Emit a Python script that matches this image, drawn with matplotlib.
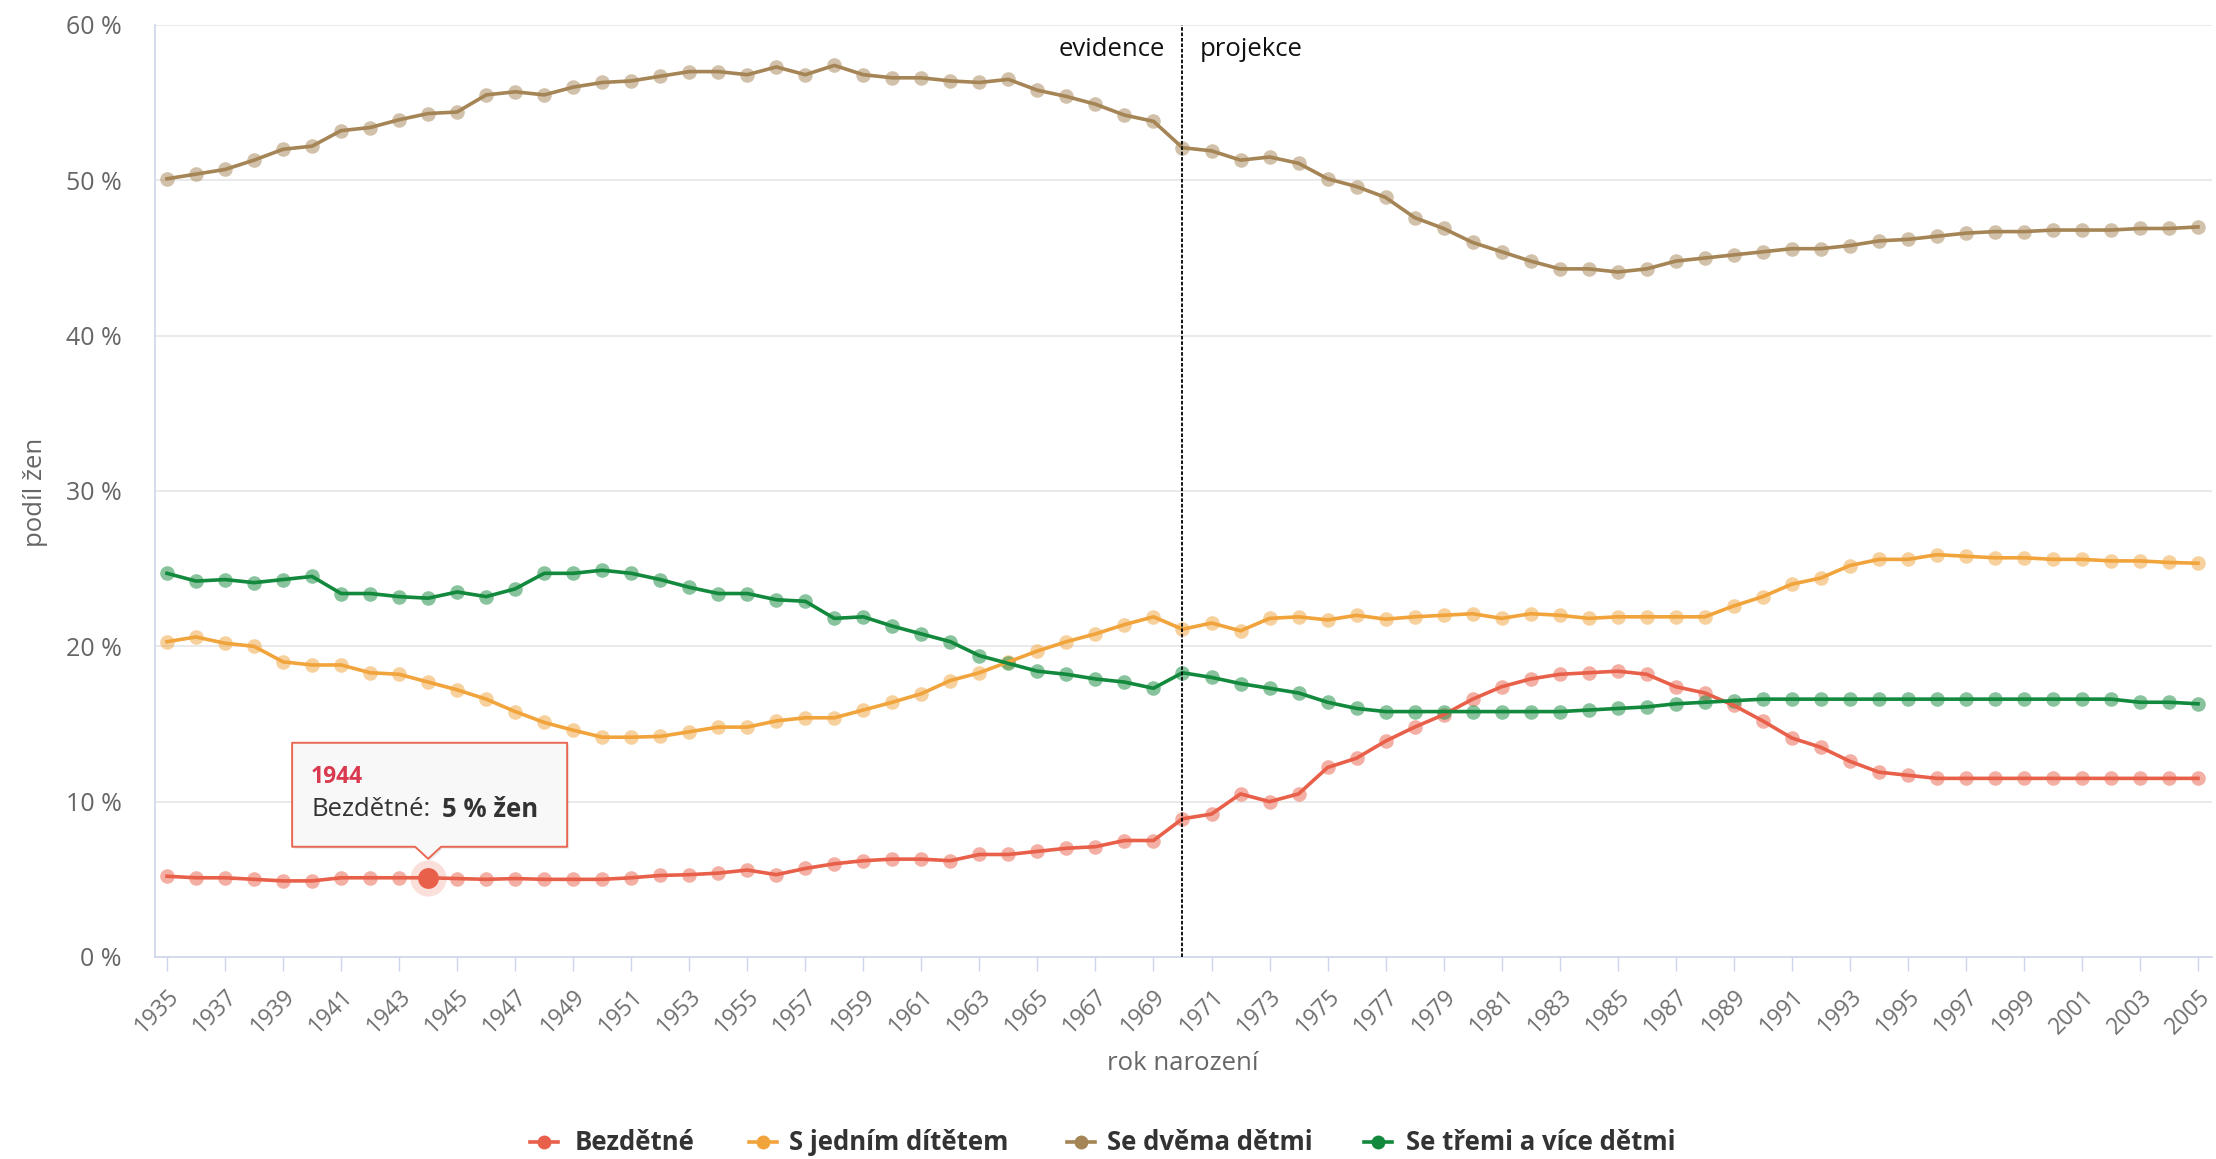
import matplotlib
matplotlib.use("Agg")
import matplotlib.pyplot as plt
from matplotlib.lines import Line2D
from matplotlib.patches import Polygon
from matplotlib.transforms import IdentityTransform

plt.rcParams['font.family'] = ['Open Sans', 'DejaVu Sans']

years = list(range(1935, 2006))

bezdetne = [5.2, 5.1, 5.1, 5.0, 4.9, 4.9, 5.1, 5.1, 5.1, 5.1,
            5.05, 5.0, 5.05, 5.0, 5.0, 5.0, 5.1, 5.25, 5.3, 5.4,
            5.6, 5.3, 5.7, 6.0, 6.2, 6.3, 6.3, 6.2, 6.6, 6.6,
            6.8, 7.0, 7.1, 7.5, 7.5, 8.9, 9.2, 10.5, 10.0, 10.5,
            12.2, 12.8, 13.9, 14.8, 15.6, 16.6, 17.4, 17.9, 18.2, 18.3,
            18.4, 18.2, 17.4, 17.0, 16.2, 15.2, 14.1, 13.5, 12.6, 11.9,
            11.7, 11.5, 11.5, 11.5, 11.5, 11.5, 11.5, 11.5, 11.5, 11.5, 11.5]

jedno_dite = [20.3, 20.6, 20.2, 20.0, 19.0, 18.8, 18.8, 18.3, 18.2, 17.7,
              17.2, 16.6, 15.8, 15.1, 14.6, 14.15, 14.15, 14.2, 14.5, 14.8,
              14.8, 15.2, 15.4, 15.4, 15.9, 16.4, 16.95, 17.8, 18.3, 19.0,
              19.7, 20.3, 20.8, 21.4, 21.9, 21.1, 21.5, 21.0, 21.8, 21.9,
              21.7, 22.0, 21.75, 21.9, 22.0, 22.1, 21.8, 22.1, 22.0, 21.8,
              21.9, 21.9, 21.9, 21.9, 22.6, 23.2, 24.0, 24.4, 25.2, 25.6,
              25.6, 25.9, 25.8, 25.7, 25.7, 25.6, 25.6, 25.5, 25.5, 25.4, 25.35]

dve_deti = [50.1, 50.4, 50.7, 51.3, 52.0, 52.2, 53.2, 53.4, 53.9, 54.3,
            54.4, 55.5, 55.7, 55.5, 56.0, 56.3, 56.4, 56.7, 57.0, 57.0,
            56.8, 57.3, 56.8, 57.4, 56.8, 56.6, 56.6, 56.4, 56.3, 56.5,
            55.8, 55.4, 54.9, 54.2, 53.8, 52.1, 51.9, 51.3, 51.5, 51.1,
            50.1, 49.6, 48.9, 47.6, 46.9, 46.0, 45.4, 44.8, 44.3, 44.3,
            44.1, 44.3, 44.8, 45.0, 45.2, 45.4, 45.6, 45.6, 45.8, 46.1,
            46.2, 46.4, 46.6, 46.7, 46.7, 46.8, 46.8, 46.8, 46.9, 46.9, 47.0]

tri_a_vice = [24.7, 24.2, 24.3, 24.1, 24.3, 24.5, 23.4, 23.4, 23.2, 23.1,
              23.5, 23.2, 23.7, 24.7, 24.7, 24.9, 24.7, 24.3, 23.8, 23.4,
              23.4, 23.0, 22.9, 21.8, 21.9, 21.3, 20.8, 20.3, 19.4, 18.9,
              18.4, 18.2, 17.9, 17.7, 17.3, 18.3, 18.0, 17.6, 17.3, 17.0,
              16.4, 16.0, 15.8, 15.8, 15.8, 15.8, 15.8, 15.8, 15.8, 15.9,
              16.0, 16.1, 16.3, 16.4, 16.5, 16.6, 16.6, 16.6, 16.6, 16.6,
              16.6, 16.6, 16.6, 16.6, 16.6, 16.6, 16.6, 16.6, 16.4, 16.4, 16.3]

series_names = ['Bezdětné', 'S jedním dítětem', 'Se dvěma dětmi', 'Se třemi a více dětmi']
series_values = [bezdetne, jedno_dite, dve_deti, tri_a_vice]
series_colors = ['#e8604a', '#f1a43c', '#a58556', '#12893c']

y_ticks = [0, 10, 20, 30, 40, 50, 60]
y_tick_labels = ['0 %', '10 %', '20 %', '30 %', '40 %', '50 %', '60 %']
x_tick_years = list(range(1935, 2006, 2))

split_year = 1970
tooltip_year = 1944

W, H = 2216, 1159
fig = plt.figure(figsize=(W / 100, H / 100), dpi=100)
ax = fig.add_axes([155 / W, 1 - 957 / H, (2212 - 155) / W, (957 - 25) / H])

for name, vals, col in zip(series_names, series_values, series_colors):
    ax.plot(years, vals, linestyle='none', marker='o', markersize=10.5,
            markerfacecolor=col, markeredgecolor='none', alpha=0.5, zorder=3)
    ax.plot(years, vals, color=col, lw=2.6, zorder=4, solid_joinstyle='round')

ax.set_xlim(1934.586, 2005.483)
ax.set_ylim(0, 60)

ax.set_yticks(y_ticks)
ax.set_yticklabels(y_tick_labels, color='#666666', fontsize=18)
ax.tick_params(axis='y', length=0, pad=24)
ax.grid(axis='y', color='#e6e6e6', lw=1.2, zorder=0)
ax.set_axisbelow(True)

ax.set_xticks(x_tick_years)
ax.set_xticklabels([str(y) for y in x_tick_years], rotation=45, ha='right',
                   rotation_mode='anchor', color='#707070', fontsize=16.5)
ax.tick_params(axis='x', length=10, width=1, color='#ccd6eb', pad=10)

for s in ['top', 'right']:
    ax.spines[s].set_visible(False)
for s in ['left', 'bottom']:
    ax.spines[s].set_color('#ccd6eb')
    ax.spines[s].set_linewidth(1.2)

ax.axvline(split_year, color='black', lw=1.3, linestyle=(0, (2, 1)), zorder=5)
ax.text(split_year - 0.6, 58.4, 'evidence', ha='right', va='center', fontsize=18.5, color='#111111')
ax.text(split_year + 0.6, 58.4, 'projekce', ha='left', va='center', fontsize=18.5, color='#111111')

fig.text(35 / W, 1 - 492 / H, 'podíl žen', rotation=90, ha='center', va='center',
         color='#666666', fontsize=18.5)
fig.text(1183 / W, 1 - 1064 / H, 'rok narození', ha='center', va='center',
         color='#666666', fontsize=18.5)

# highlighted point
ti = years.index(tooltip_year)
tv = bezdetne[ti]
ax.plot([tooltip_year], [tv], marker='o', markersize=26, color='#e8604a', alpha=0.2,
        markeredgecolor='none', zorder=6)
ax.plot([tooltip_year], [tv], marker='o', markersize=15, color='#e8604a',
        markeredgecolor='none', zorder=7)

# tooltip callout
fig.canvas.draw()
px, py = ax.transData.transform((tooltip_year, tv))
L, R = px - 136, px + 139
T, B = py + 135, py + 31
tip = py + 19
pts = [(L, B), (px - 13, B), (px, tip), (px + 13, B), (R, B), (R, T), (L, T)]
shadow = Polygon([(x + 2, y - 2) for x, y in pts], closed=True, transform=IdentityTransform(),
                 facecolor='black', alpha=0.08, edgecolor='none', zorder=8)
fig.add_artist(shadow)
box = Polygon(pts, closed=True, transform=IdentityTransform(), facecolor='#f9f9f9',
              edgecolor='#e8604a', lw=1.4, alpha=0.95, zorder=9, joinstyle='round')
fig.add_artist(box)
fig.text((L + 19) / W, (py + 101) / H, str(tooltip_year), color='#d93a4f', fontsize=16.5,
         fontweight='bold', ha='left', va='center', zorder=10)
t1 = fig.text((L + 19) / W, (py + 68) / H, 'Bezdětné:', color='#333333', fontsize=18.5,
              ha='left', va='center', zorder=10)
fig.canvas.draw()
bb = t1.get_window_extent()
fig.text((bb.x1 + 12) / W, (py + 68) / H, '5 % žen', color='#333333', fontsize=18.5,
         fontweight='bold', ha='left', va='center', zorder=10)

# legend (manual, Highcharts style)
legend_sym_x = [544, 763, 1081, 1378]
legend_text_x = [575, 789, 1107, 1406]
legend_y = 1 - 1142 / H
for sx, tx, name, col in zip(legend_sym_x, legend_text_x, series_names, series_colors):
    fig.add_artist(Line2D([(sx - 14) / W, (sx + 14) / W], [legend_y, legend_y],
                          color=col, lw=2.6, transform=fig.transFigure))
    fig.add_artist(Line2D([sx / W], [legend_y], marker='o', markersize=10, color=col,
                          markeredgecolor='none', transform=fig.transFigure))
    fig.text(tx / W, legend_y, name, ha='left', va='center', fontsize=18.5,
             fontweight='bold', color='#333333')

fig.savefig('out.png', dpi=100)
